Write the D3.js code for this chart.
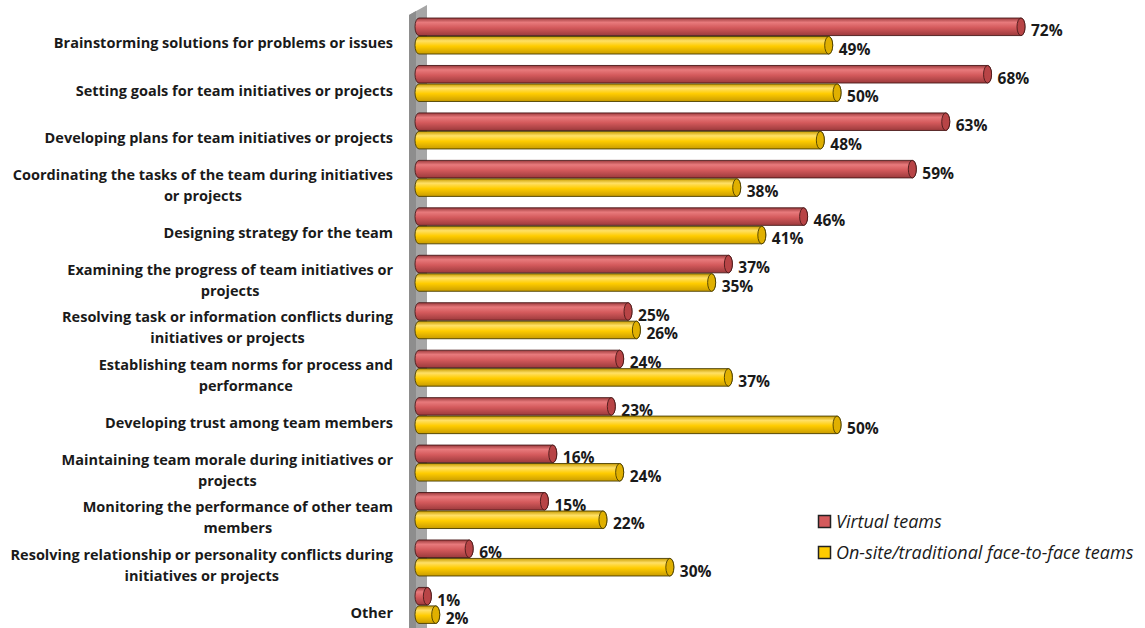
<!DOCTYPE html>
<html><head><meta charset="utf-8">
<script src="https://cdn.jsdelivr.net/npm/d3@7"></script>
<style>
html,body{margin:0;padding:0;background:#fff;}
svg{display:block;}
</style></head>
<body>
<script>
const categories = [
  ["Brainstorming solutions for problems or issues"],
  ["Setting goals for team initiatives or projects"],
  ["Developing plans for team initiatives or projects"],
  ["Coordinating the tasks of the team during initiatives", "or projects"],
  ["Designing strategy for the team"],
  ["Examining the progress of team initiatives or", "projects"],
  ["Resolving task or information conflicts during", "initiatives or projects"],
  ["Establishing team norms for process and", "performance"],
  ["Developing trust among team members"],
  ["Maintaining team morale during initiatives or", "projects"],
  ["Monitoring the performance of other team", "members"],
  ["Resolving relationship or personality conflicts during", "initiatives or projects"],
  ["Other"]
];
const virtualTeams = [72, 68, 63, 59, 46, 37, 25, 24, 23, 16, 15, 6, 1];
const onsiteTeams = [49, 50, 48, 38, 41, 35, 26, 37, 50, 24, 22, 30, 2];
const seriesNames = ["Virtual teams", "On-site/traditional face-to-face teams"];

const W = 1145, H = 628;
const svg = d3.select("body").append("svg").attr("width", W).attr("height", H);

const x = d3.scaleLinear().domain([0, 72]).range([419, 1021]);
const y = d3.scaleBand().domain(d3.range(categories.length)).range([12.3, 12.3 + 13 * 47.45]).paddingInner(0);
const sub = d3.scaleBand().domain([0, 1]).range([-18, 18]).paddingInner(0.05);

const series = [
  {name: seriesNames[0], values: virtualTeams, light: "#e87a7c", mid: "#d45a5c", dark: "#9c3a3c", stroke: "#4a1a1a", cap: "#b84446"},
  {name: seriesNames[1], values: onsiteTeams, light: "#ffe066", mid: "#ffcc00", dark: "#c99c00", stroke: "#4a3d00", cap: "#e0b000"}
];

const defs = svg.append("defs");
series.forEach((s, i) => {
  const g = defs.append("linearGradient").attr("id", "grad" + i).attr("x1", 0).attr("y1", 0).attr("x2", 0).attr("y2", 1);
  g.append("stop").attr("offset", "0%").attr("stop-color", s.dark);
  g.append("stop").attr("offset", "25%").attr("stop-color", s.light);
  g.append("stop").attr("offset", "55%").attr("stop-color", s.mid);
  g.append("stop").attr("offset", "100%").attr("stop-color", s.dark);
});

// wall
svg.append("polygon").attr("points", "409,15 427,5 427,628 409,628").attr("fill", "#a6a6a6");
svg.append("polygon").attr("points", "409,15 416,11 416,628 409,628").attr("fill", "#8d8d8d");

// category labels (block centred, right edge of widest line at 393)
const labels = svg.append("g");
categories.forEach((lines, i) => {
  const cy = y(i) + y.bandwidth() / 2 + 7;
  const lh = 21;
  const t = labels.append("text")
    .attr("text-anchor", "middle")
    .attr("font-family", "'Open Sans', sans-serif")
    .attr("font-weight", 700)
    .attr("font-size", "14.5px")
    .attr("fill", "#1a1a1a");
  const spans = lines.map((ln, j) => t.append("tspan")
      .attr("y", cy + (j - (lines.length - 1) / 2) * lh)
      .attr("dy", "0.35em").text(ln));
  const maxW = d3.max(spans, s => s.node().getComputedTextLength());
  spans.forEach(s => s.attr("x", 393 - maxW / 2));
});

// bars
const rx = 4;
series.forEach((s, si) => {
  const g = svg.append("g");
  s.values.forEach((v, i) => {
    const cy = y(i) + y.bandwidth() / 2;
    const y0 = cy + sub(si), h = sub.bandwidth(), y1 = y0 + h;
    const x0 = x(0), x1 = x(v);
    g.append("path")
      .attr("d", `M${x0},${y0} L${x1},${y0} A${rx},${h/2} 0 0 1 ${x1},${y1} L${x0},${y1} A${rx},${h/2} 0 0 1 ${x0},${y0} Z`)
      .attr("fill", `url(#grad${si})`).attr("stroke", s.stroke).attr("stroke-width", 0.9);
    g.append("ellipse").attr("cx", x1).attr("cy", y0 + h / 2).attr("rx", rx).attr("ry", h / 2)
      .attr("fill", s.cap).attr("stroke", s.stroke).attr("stroke-width", 0.9);
    g.append("text")
      .attr("x", x1 + rx + 6).attr("y", y0 + h / 2 + 4).attr("dy", "0.35em")
      .attr("font-family", "'Open Sans', sans-serif").attr("font-weight", 700)
      .attr("font-size", "15.5px").attr("fill", "#1a1a1a")
      .text(v + "%");
  });
});

// legend
const leg = svg.append("g");
series.forEach((s, i) => {
  const ly = 522 + i * 31;
  leg.append("rect").attr("x", 818.5).attr("y", ly - 6.5).attr("width", 12).attr("height", 12)
    .attr("fill", s.mid).attr("stroke", "#222").attr("stroke-width", 1.5);
  leg.append("text").attr("x", 836).attr("y", ly).attr("dy", "0.35em")
    .attr("font-family", "'Open Sans', sans-serif").attr("font-style", "italic")
    .attr("font-size", "18px").attr("fill", "#1a1a1a").text(s.name);
});
</script>
</body></html>
